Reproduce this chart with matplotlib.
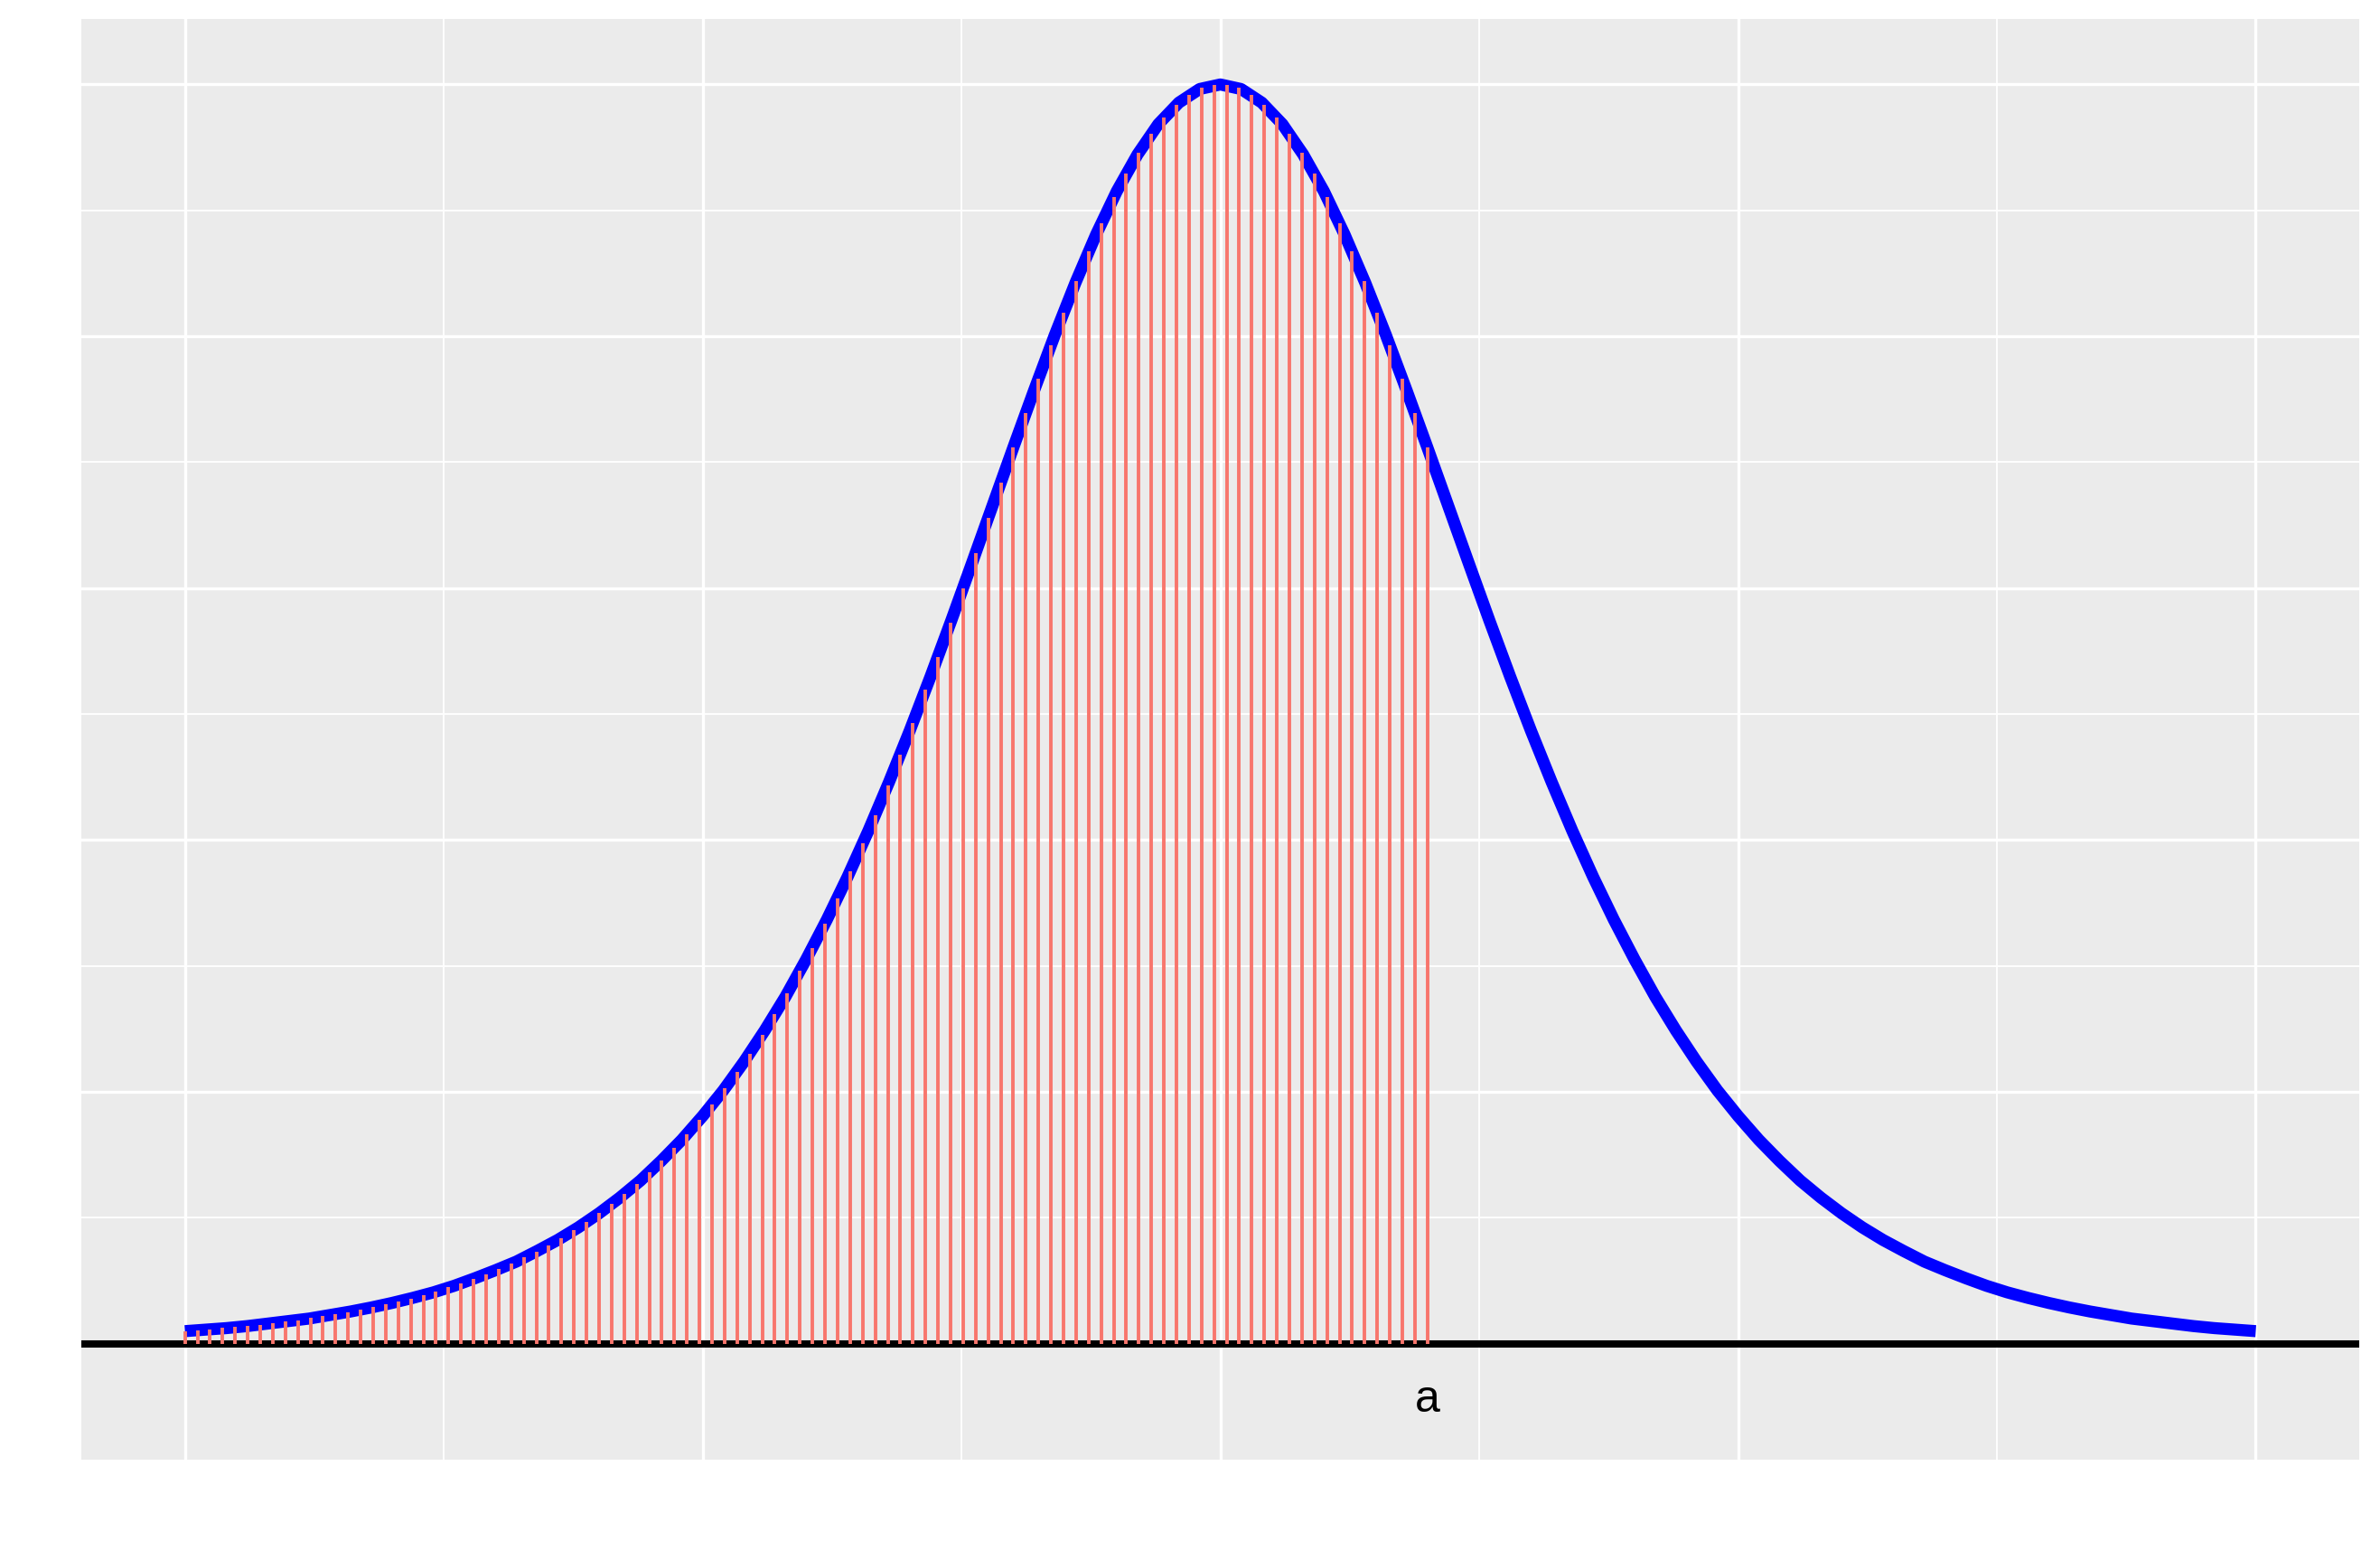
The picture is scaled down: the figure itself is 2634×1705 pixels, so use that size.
import numpy as np
import matplotlib
matplotlib.use("Agg")
import matplotlib.pyplot as plt

# density curve at 101 points from -6 to 6
curve_lo, curve_hi, curve_n = -6.0, 6.0, 101
curve_y = [
    0.0025, 0.0028, 0.0031, 0.0035, 0.0040, 0.0045, 0.0050, 0.0057, 0.0064, 0.0072,
    0.0081, 0.0091, 0.0102, 0.0115, 0.0130, 0.0146, 0.0163, 0.0184, 0.0206, 0.0231,
    0.0259, 0.0290, 0.0324, 0.0363, 0.0405, 0.0452, 0.0503, 0.0560, 0.0622, 0.0689,
    0.0763, 0.0842, 0.0927, 0.1018, 0.1115, 0.1217, 0.1324, 0.1435, 0.1549, 0.1664,
    0.1779, 0.1892, 0.2002, 0.2106, 0.2202, 0.2288, 0.2361, 0.2421, 0.2464, 0.2491,
    0.2500,
    0.2491, 0.2464, 0.2421, 0.2361, 0.2288, 0.2202, 0.2106, 0.2002, 0.1892, 0.1779,
    0.1664, 0.1549, 0.1435, 0.1324, 0.1217, 0.1115, 0.1018, 0.0927, 0.0842, 0.0763,
    0.0689, 0.0622, 0.0560, 0.0503, 0.0452, 0.0405, 0.0363, 0.0324, 0.0290, 0.0259,
    0.0231, 0.0206, 0.0184, 0.0163, 0.0146, 0.0130, 0.0115, 0.0102, 0.0091, 0.0081,
    0.0072, 0.0064, 0.0057, 0.0050, 0.0045, 0.0040, 0.0035, 0.0031, 0.0028, 0.0025,
]

# red segments from -6 up to a
a = 1.2
seg_n = 100
seg_y = [
    0.0025, 0.0027, 0.0029, 0.0031, 0.0033, 0.0035, 0.0038, 0.0041, 0.0044, 0.0047,
    0.0051, 0.0055, 0.0059, 0.0063, 0.0068, 0.0073, 0.0078, 0.0084, 0.0090, 0.0097,
    0.0104, 0.0112, 0.0120, 0.0129, 0.0138, 0.0148, 0.0159, 0.0171, 0.0183, 0.0196,
    0.0210, 0.0225, 0.0242, 0.0259, 0.0277, 0.0297, 0.0318, 0.0340, 0.0364, 0.0389,
    0.0416, 0.0444, 0.0475, 0.0507, 0.0540, 0.0576, 0.0614, 0.0654, 0.0696, 0.0740,
    0.0786, 0.0834, 0.0885, 0.0938, 0.0993, 0.1050, 0.1109, 0.1170, 0.1233, 0.1298,
    0.1364, 0.1432, 0.1500, 0.1569, 0.1639, 0.1709, 0.1779, 0.1848, 0.1916, 0.1983,
    0.2047, 0.2109, 0.2168, 0.2224, 0.2276, 0.2323, 0.2365, 0.2403, 0.2434, 0.2460,
    0.2479, 0.2493, 0.2499, 0.2499, 0.2493, 0.2479, 0.2460, 0.2434, 0.2403, 0.2365,
    0.2323, 0.2276, 0.2224, 0.2168, 0.2109, 0.2047, 0.1983, 0.1916, 0.1848, 0.1779,
]
label_y = -0.01

x_major = [-6, -3, 0, 3, 6]
x_minor = [-4.5, -1.5, 1.5, 4.5]
y_major = [0, 0.05, 0.10, 0.15, 0.20, 0.25]
y_minor = [0.025, 0.075, 0.125, 0.175, 0.225]

curve_x = np.linspace(curve_lo, curve_hi, curve_n)
seg_x = np.linspace(curve_lo, a, seg_n)

fig = plt.figure(figsize=(13.17, 8.53), dpi=200)
ax = fig.add_axes([0.0342, 0.0528, 0.9571, 0.9343])
ax.set_facecolor('#EBEBEB')

ax.set_xticks(x_major)
ax.set_xticks(x_minor, minor=True)
ax.set_yticks(y_major)
ax.set_yticks(y_minor, minor=True)
ax.grid(which='major', color='white', lw=1.2)
ax.grid(which='minor', color='white', lw=0.65)
ax.set_axisbelow(True)
ax.tick_params(which='both', length=0, labelbottom=False, labelleft=False)
for s in ax.spines.values():
    s.set_visible(False)

ax.axhline(0, color='black', lw=2.9, zorder=2)
ax.plot(curve_x, curve_y, color='blue', lw=4.8, solid_capstyle='butt', zorder=3)
ax.vlines(seg_x, 0, seg_y, colors='#F8766D', lw=1.4, zorder=4)
ax.annotate('a', (a, label_y), xytext=(0, -6.6), textcoords='offset points',
            ha='center', va='baseline', fontsize=18,
            family='Liberation Sans', color='black')

ax.set_xlim(-6.6, 6.6)
ax.set_ylim(-0.023, 0.263)

fig.savefig('out.png', dpi=200, facecolor='white')
